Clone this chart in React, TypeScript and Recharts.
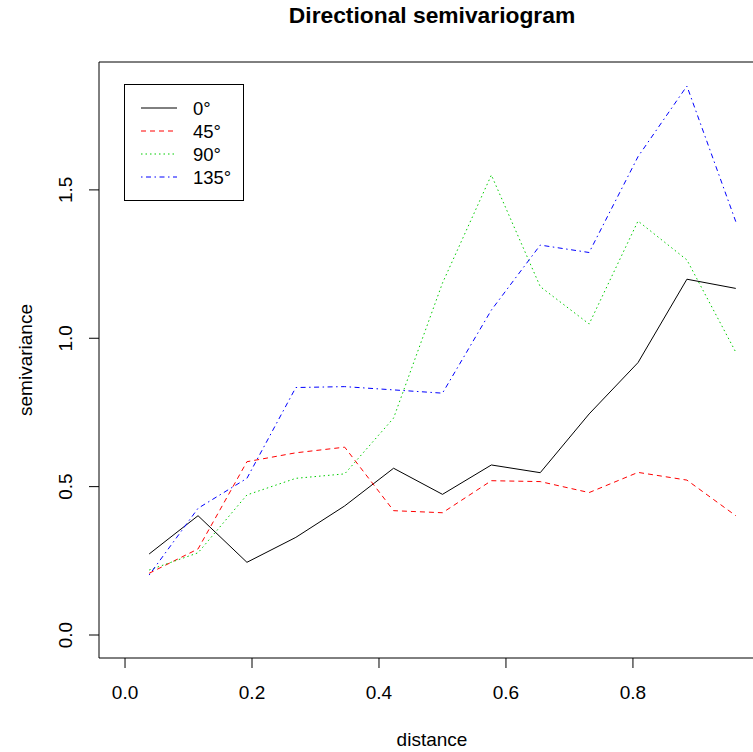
import { LineChart, Line, XAxis, YAxis, ReferenceArea, Label, Legend } from "recharts"

const distance = [0.038, 0.115, 0.192, 0.269, 0.346, 0.423, 0.5, 0.577, 0.654, 0.731, 0.808, 0.885, 0.962]
const dir0 = [0.273, 0.402, 0.245, 0.329, 0.435, 0.562, 0.474, 0.573, 0.547, 0.745, 0.918, 1.199, 1.168]
const dir45 = [0.208, 0.29, 0.584, 0.614, 0.633, 0.419, 0.412, 0.52, 0.517, 0.48, 0.548, 0.522, 0.402]
const dir90 = [0.219, 0.277, 0.472, 0.528, 0.543, 0.731, 1.186, 1.55, 1.174, 1.048, 1.395, 1.264, 0.953]
const dir135 = [0.202, 0.427, 0.528, 0.834, 0.837, 0.826, 0.815, 1.095, 1.314, 1.289, 1.612, 1.85, 1.393]

const xTicks = [0, 0.2, 0.4, 0.6, 0.8]
const yTicks = [0, 0.5, 1.0, 1.5]
const xDomain = [-0.041, 1.008]
const yDomain = [-0.0775, 1.931]

const series = [
  { key: "d0", name: "0°", color: "#000000", dash: undefined },
  { key: "d45", name: "45°", color: "#ff0000", dash: "5 4" },
  { key: "d90", name: "90°", color: "#00cd00", dash: "1.5 3" },
  { key: "d135", name: "135°", color: "#0000ff", dash: "1.5 3.5 5 3.5" },
]

const data = distance.map((d, i) => ({
  distance: d,
  d0: dir0[i],
  d45: dir45[i],
  d90: dir90[i],
  d135: dir135[i],
}))

const font = "'Liberation Sans', Arial, Helvetica, sans-serif"

function XTick(props: any) {
  const { x, y, payload } = props
  return (
    <text x={x} y={y + 31} textAnchor="middle" fontSize={19} fontFamily={font} fill="#000">
      {payload.value.toFixed(1)}
    </text>
  )
}

function YTick(props: any) {
  const { x, y, payload } = props
  const tx = x - 17
  return (
    <text x={tx} y={y} transform={`rotate(-90, ${tx}, ${y})`} textAnchor="middle" fontSize={19} fontFamily={font} fill="#000">
      {payload.value.toFixed(1)}
    </text>
  )
}

function LegendBox() {
  return (
    <svg width={120} height={117} style={{ display: "block" }}>
      <rect x={0.5} y={0.5} width={119} height={116} fill="#fff" stroke="#000" />
      {series.map((s, i) => {
        const ry = 24 + i * 23
        return (
          <g key={s.key}>
            <line x1={17} x2={53} y1={ry} y2={ry} stroke={s.color} strokeDasharray={s.dash} />
            <text x={69} y={ry + 6.5} fontSize={18.5} fontFamily={font} fill="#000">
              {s.name}
            </text>
          </g>
        )
      })}
    </svg>
  )
}

export default function App() {
  return (
    <div style={{ position: "absolute", left: 0, top: 0, width: 753, height: 752, overflow: "hidden", background: "#fff" }}>
      <LineChart width={775} height={752} data={data} margin={{ top: 62, right: 10, bottom: 0, left: 0 }}>
        <XAxis
          type="number"
          dataKey="distance"
          domain={xDomain}
          ticks={xTicks}
          allowDataOverflow
          height={94}
          axisLine={false}
          tickSize={10}
          tickMargin={0}
          tickLine={{ stroke: "#000" }}
          tick={<XTick />}
        >
          <Label
            content={(p: any) => (
              <text x={p.viewBox.x + p.viewBox.width / 2} y={p.viewBox.y + 88} textAnchor="middle" fontSize={19} fontFamily={font} fill="#000">
                distance
              </text>
            )}
          />
        </XAxis>
        <YAxis
          type="number"
          domain={yDomain}
          ticks={yTicks}
          allowDataOverflow
          width={99}
          axisLine={false}
          tickSize={10}
          tickMargin={0}
          tickLine={{ stroke: "#000" }}
          tick={<YTick />}
        >
          <Label
            content={(p: any) => {
              const cx = p.viewBox.x + 32
              const cy = p.viewBox.y + p.viewBox.height / 2
              return (
                <text x={cx} y={cy} transform={`rotate(-90, ${cx}, ${cy})`} textAnchor="middle" fontSize={19} fontFamily={font} fill="#000">
                  semivariance
                </text>
              )
            }}
          />
        </YAxis>
        <ReferenceArea x1={xDomain[0]} x2={xDomain[1]} y1={yDomain[0]} y2={yDomain[1]} fill="none" stroke="#000" strokeWidth={1}>
          <Label
            content={(p: any) => (
              <text x={p.viewBox.x + p.viewBox.width / 2} y={p.viewBox.y - 39} textAnchor="middle" fontSize={22.8} fontWeight="bold" fontFamily={font} fill="#000">
                Directional semivariogram
              </text>
            )}
          />
        </ReferenceArea>
        {series.map((s) => (
          <Line
            key={s.key}
            type="linear"
            dataKey={s.key}
            name={s.name}
            stroke={s.color}
            strokeWidth={1}
            strokeDasharray={s.dash}
            dot={false}
            activeDot={false}
            isAnimationActive={false}
          />
        ))}
        <Legend
          layout="horizontal"
          verticalAlign="middle"
          align="center"
          content={() => <LegendBox />}
          wrapperStyle={{ left: 124, top: 84, width: 120, height: 117 }}
        />
      </LineChart>
    </div>
  )
}
